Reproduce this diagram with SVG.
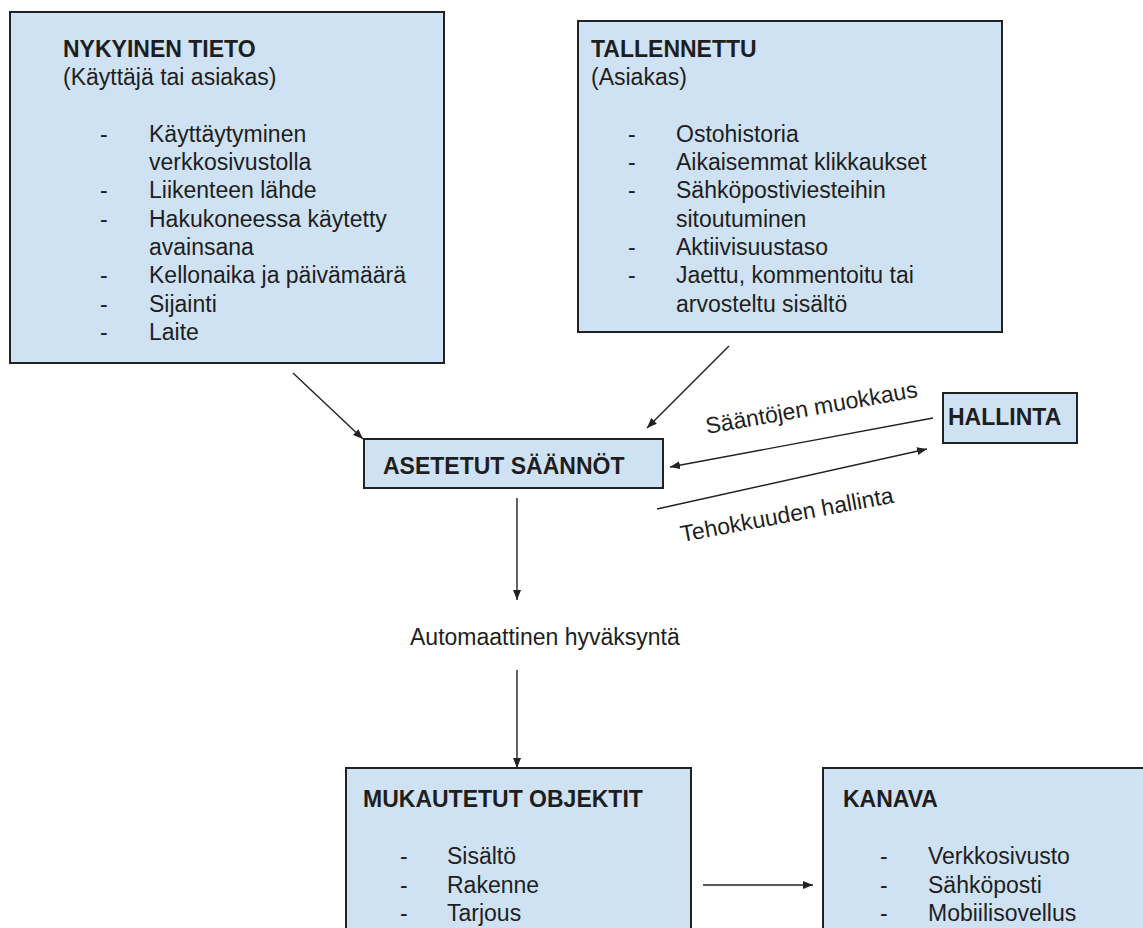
<svg xmlns="http://www.w3.org/2000/svg" width="1143" height="928" viewBox="0 0 1143 928">
<style>
.box{fill:#cfe2f3;stroke:#222;stroke-width:2}
text{font-family:"Liberation Sans",Arial,sans-serif;font-size:23px;fill:#1e1e1e}
.b{font-weight:bold}
.c{stroke:#222;stroke-width:1.4;fill:none;marker-end:url(#ah)}
</style>
<defs>
<marker id="ah" markerUnits="userSpaceOnUse" markerWidth="10" markerHeight="8" refX="10" refY="4" orient="auto">
<path d="M0,0 L10,4 L0,8 z" fill="#222"/>
</marker>
</defs>
<rect width="1143" height="928" fill="#fff"/>
<g id="nykyinen">
<rect class="box" x="10" y="12" width="434" height="351"/>
<text class="b" x="63" y="57">NYKYINEN TIETO</text>
<text x="63" y="85">(Käyttäjä tai asiakas)</text>
<text x="100" y="142">-</text><text x="149" y="142">Käyttäytyminen</text>
<text x="149" y="170">verkkosivustolla</text>
<text x="100" y="198">-</text><text x="149" y="198">Liikenteen lähde</text>
<text x="100" y="227">-</text><text x="149" y="227">Hakukoneessa käytetty</text>
<text x="149" y="255">avainsana</text>
<text x="100" y="283">-</text><text x="149" y="283">Kellonaika ja päivämäärä</text>
<text x="100" y="312">-</text><text x="149" y="312">Sijainti</text>
<text x="100" y="340">-</text><text x="149" y="340">Laite</text>
</g>
<g id="tallennettu">
<rect class="box" x="578" y="21" width="424" height="311"/>
<text class="b" x="591" y="57">TALLENNETTU</text>
<text x="591" y="85">(Asiakas)</text>
<text x="628" y="142">-</text><text x="676" y="142">Ostohistoria</text>
<text x="628" y="170">-</text><text x="676" y="170">Aikaisemmat klikkaukset</text>
<text x="628" y="198">-</text><text x="676" y="198">Sähköpostiviesteihin</text>
<text x="676" y="227">sitoutuminen</text>
<text x="628" y="255">-</text><text x="676" y="255">Aktiivisuustaso</text>
<text x="628" y="283">-</text><text x="676" y="283">Jaettu, kommentoitu tai</text>
<text x="676" y="312">arvosteltu sisältö</text>
</g>
<g id="asetetut">
<rect class="box" x="364" y="439" width="299" height="49"/>
<text class="b" x="383" y="474">ASETETUT SÄÄNNÖT</text>
</g>
<g id="hallinta">
<rect class="box" x="943" y="393" width="134" height="50"/>
<text class="b" x="948" y="425">HALLINTA</text>
</g>
<g id="mukautetut">
<rect class="box" x="346" y="768" width="345" height="180"/>
<text class="b" x="363" y="807">MUKAUTETUT OBJEKTIT</text>
<text x="400" y="864">-</text><text x="447" y="864">Sisältö</text>
<text x="400" y="893">-</text><text x="447" y="893">Rakenne</text>
<text x="400" y="921">-</text><text x="447" y="921">Tarjous</text>
</g>
<g id="kanava">
<rect class="box" x="823" y="768" width="340" height="180"/>
<text class="b" x="843" y="807">KANAVA</text>
<text x="880" y="864">-</text><text x="928" y="864">Verkkosivusto</text>
<text x="880" y="893">-</text><text x="928" y="893">Sähköposti</text>
<text x="880" y="921">-</text><text x="928" y="921">Mobiilisovellus</text>
</g>
<g id="connectors">
<line class="c" x1="293" y1="373" x2="363" y2="439"/>
<line class="c" x1="729" y1="346" x2="647" y2="428"/>
<line class="c" x1="933" y1="418" x2="670" y2="467"/>
<line class="c" x1="657" y1="509" x2="927" y2="449"/>
<line class="c" x1="517" y1="498" x2="517" y2="600"/>
<line class="c" x1="517" y1="670" x2="517" y2="768"/>
<line class="c" x1="703" y1="885" x2="813" y2="885"/>
<text transform="translate(707,434) rotate(-10)">Sääntöjen muokkaus</text>
<text transform="translate(682,542) rotate(-10.5)">Tehokkuuden hallinta</text>
<text x="410" y="645">Automaattinen hyväksyntä</text>
</g>
</svg>
